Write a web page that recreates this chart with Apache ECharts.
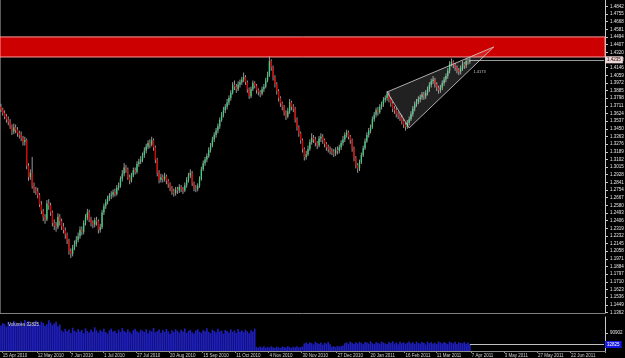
<!DOCTYPE html>
<html><head><meta charset="utf-8">
<script src="https://cdn.jsdelivr.net/npm/echarts@6/dist/echarts.min.js"></script>
<style>html,body{margin:0;padding:0;background:#000;}#c{width:625px;height:358px;}</style>
</head><body><div id="c"></div>
<script>
// EURUSD daily, 14 Apr 2010 .. 6 Apr 2011 : [open, close, low, high]
const candles = [
[1.3700,1.3670,1.3640,1.3735],[1.3670,1.3630,1.3600,1.3690],[1.3630,1.3590,1.3560,1.3660],[1.3590,1.3555,1.3520,1.3620],[1.3555,1.3530,1.3490,1.3590],[1.3530,1.3480,1.3450,1.3560],[1.3480,1.3420,1.3380,1.3500],[1.3420,1.3465,1.3390,1.3510],[1.3465,1.3440,1.3400,1.3500],[1.3440,1.3400,1.3360,1.3470],
[1.3400,1.3380,1.3340,1.3430],[1.3380,1.3350,1.3310,1.3420],[1.3350,1.3300,1.3260,1.3370],[1.3300,1.3320,1.3260,1.3360],[1.3320,1.3030,1.2990,1.3340],[1.3030,1.2900,1.2860,1.3060],[1.2900,1.2950,1.2870,1.2990],[1.2950,1.2800,1.2770,1.3130],[1.2800,1.2760,1.2720,1.2840],[1.2760,1.2740,1.2700,1.2790],
[1.2740,1.2700,1.2660,1.2780],[1.2700,1.2590,1.2560,1.2720],[1.2590,1.2520,1.2480,1.2630],[1.2520,1.2450,1.2400,1.2540],[1.2450,1.2420,1.2370,1.2480],[1.2420,1.2600,1.2400,1.2640],[1.2600,1.2580,1.2530,1.2650],[1.2580,1.2500,1.2460,1.2610],[1.2500,1.2380,1.2340,1.2520],[1.2380,1.2350,1.2300,1.2420],
[1.2350,1.2330,1.2280,1.2390],[1.2330,1.2450,1.2310,1.2490],[1.2450,1.2400,1.2350,1.2480],[1.2400,1.2340,1.2300,1.2430],[1.2340,1.2300,1.2260,1.2380],[1.2300,1.2250,1.2200,1.2330],[1.2250,1.2180,1.2140,1.2270],[1.2180,1.2060,1.2020,1.2200],[1.2060,1.2030,1.1981,1.2090],[1.2030,1.2100,1.2000,1.2130],
[1.2100,1.2140,1.2070,1.2180],[1.2140,1.2190,1.2110,1.2230],[1.2190,1.2230,1.2160,1.2270],[1.2230,1.2300,1.2200,1.2340],[1.2300,1.2280,1.2240,1.2340],[1.2280,1.2380,1.2250,1.2410],[1.2380,1.2440,1.2350,1.2480],[1.2440,1.2500,1.2410,1.2540],[1.2500,1.2420,1.2390,1.2530],[1.2420,1.2380,1.2340,1.2450],
[1.2380,1.2360,1.2320,1.2410],[1.2360,1.2410,1.2330,1.2440],[1.2410,1.2400,1.2350,1.2450],[1.2400,1.2300,1.2260,1.2420],[1.2300,1.2330,1.2270,1.2370],[1.2330,1.2500,1.2310,1.2530],[1.2500,1.2570,1.2470,1.2600],[1.2570,1.2620,1.2540,1.2650],[1.2620,1.2660,1.2590,1.2690],[1.2660,1.2690,1.2630,1.2720],
[1.2690,1.2700,1.2650,1.2740],[1.2700,1.2730,1.2670,1.2760],[1.2730,1.2710,1.2680,1.2770],[1.2710,1.2780,1.2690,1.2810],[1.2780,1.2800,1.2750,1.2840],[1.2800,1.2880,1.2780,1.2910],[1.2880,1.2940,1.2850,1.2980],[1.2940,1.3010,1.2910,1.3060],[1.3010,1.2990,1.2950,1.3040],[1.2990,1.2900,1.2870,1.3010],
[1.2900,1.2860,1.2820,1.2930],[1.2860,1.2920,1.2840,1.2950],[1.2920,1.2980,1.2900,1.3010],[1.2980,1.2960,1.2930,1.3010],[1.2960,1.3050,1.2940,1.3080],[1.3050,1.3080,1.3020,1.3110],[1.3080,1.3100,1.3050,1.3140],[1.3100,1.3150,1.3070,1.3180],[1.3150,1.3200,1.3120,1.3240],[1.3200,1.3250,1.3170,1.3280],
[1.3250,1.3290,1.3220,1.3320],[1.3290,1.3270,1.3230,1.3330],[1.3270,1.3320,1.3250,1.3360],[1.3320,1.3240,1.3200,1.3340],[1.3240,1.3100,1.3060,1.3260],[1.3100,1.2950,1.2910,1.3120],[1.2950,1.2870,1.2830,1.2980],[1.2870,1.2900,1.2840,1.2940],[1.2900,1.2880,1.2840,1.2930],[1.2880,1.2910,1.2850,1.2950],
[1.2910,1.2860,1.2820,1.2930],[1.2860,1.2820,1.2780,1.2880],[1.2820,1.2780,1.2740,1.2840],[1.2780,1.2740,1.2700,1.2800],[1.2740,1.2720,1.2680,1.2770],[1.2720,1.2760,1.2690,1.2790],[1.2760,1.2750,1.2710,1.2790],[1.2750,1.2790,1.2720,1.2820],[1.2790,1.2770,1.2730,1.2810],[1.2770,1.2750,1.2710,1.2790],
[1.2750,1.2810,1.2730,1.2840],[1.2810,1.2870,1.2780,1.2900],[1.2870,1.2920,1.2840,1.2950],[1.2920,1.2950,1.2890,1.2990],[1.2950,1.2830,1.2800,1.2970],[1.2830,1.2780,1.2740,1.2850],[1.2780,1.2770,1.2730,1.2810],[1.2770,1.2800,1.2740,1.2830],[1.2800,1.2880,1.2780,1.2910],[1.2880,1.2990,1.2860,1.3020],
[1.2990,1.3060,1.2970,1.3090],[1.3060,1.3100,1.3030,1.3130],[1.3100,1.3140,1.3070,1.3170],[1.3140,1.3210,1.3120,1.3240],[1.3210,1.3260,1.3180,1.3290],[1.3260,1.3330,1.3240,1.3360],[1.3330,1.3380,1.3300,1.3410],[1.3380,1.3430,1.3350,1.3460],[1.3430,1.3480,1.3400,1.3510],[1.3480,1.3550,1.3450,1.3580],
[1.3550,1.3610,1.3530,1.3640],[1.3610,1.3660,1.3580,1.3700],[1.3660,1.3700,1.3630,1.3730],[1.3700,1.3750,1.3670,1.3790],[1.3750,1.3800,1.3720,1.3830],[1.3800,1.3860,1.3770,1.3890],[1.3860,1.3950,1.3840,1.3980],[1.3950,1.3930,1.3890,1.4000],[1.3930,1.3900,1.3860,1.3960],[1.3900,1.3950,1.3880,1.3990],
[1.3950,1.3980,1.3920,1.4010],[1.3980,1.4010,1.3950,1.4040],[1.4010,1.4040,1.3980,1.4090],[1.4040,1.3980,1.3950,1.4060],[1.3980,1.3900,1.3860,1.4000],[1.3900,1.3820,1.3790,1.3920],[1.3820,1.3900,1.3800,1.3930],[1.3900,1.3970,1.3880,1.4000],[1.3970,1.3940,1.3910,1.3990],[1.3940,1.3890,1.3850,1.3960],
[1.3890,1.3870,1.3830,1.3910],[1.3870,1.3850,1.3810,1.3890],[1.3850,1.3900,1.3830,1.3930],[1.3900,1.3930,1.3870,1.3960],[1.3930,1.4000,1.3910,1.4030],[1.4000,1.4060,1.3980,1.4100],[1.4060,1.4220,1.4040,1.4275],[1.4220,1.4150,1.4110,1.4240],[1.4150,1.4040,1.4000,1.4170],[1.4040,1.3960,1.3920,1.4060],
[1.3960,1.3880,1.3840,1.3980],[1.3880,1.3800,1.3760,1.3900],[1.3800,1.3740,1.3700,1.3820],[1.3740,1.3700,1.3660,1.3760],[1.3700,1.3640,1.3600,1.3720],[1.3640,1.3590,1.3550,1.3660],[1.3590,1.3650,1.3570,1.3690],[1.3650,1.3750,1.3620,1.3790],[1.3750,1.3700,1.3660,1.3770],[1.3700,1.3680,1.3640,1.3730],
[1.3680,1.3560,1.3520,1.3700],[1.3560,1.3470,1.3430,1.3580],[1.3470,1.3400,1.3360,1.3490],[1.3400,1.3320,1.3280,1.3420],[1.3320,1.3220,1.3180,1.3340],[1.3220,1.3130,1.3090,1.3240],[1.3130,1.3160,1.3100,1.3200],[1.3160,1.3220,1.3140,1.3260],[1.3220,1.3300,1.3200,1.3330],[1.3300,1.3350,1.3270,1.3400],
[1.3350,1.3330,1.3290,1.3380],[1.3330,1.3290,1.3250,1.3360],[1.3290,1.3260,1.3220,1.3310],[1.3260,1.3340,1.3240,1.3370],[1.3340,1.3360,1.3300,1.3400],[1.3360,1.3320,1.3280,1.3390],[1.3320,1.3280,1.3240,1.3340],[1.3280,1.3240,1.3200,1.3300],[1.3240,1.3220,1.3180,1.3270],[1.3220,1.3200,1.3160,1.3250],
[1.3200,1.3190,1.3150,1.3230],[1.3190,1.3170,1.3130,1.3220],[1.3170,1.3210,1.3140,1.3240],[1.3210,1.3200,1.3160,1.3250],[1.3200,1.3240,1.3170,1.3270],[1.3240,1.3290,1.3210,1.3320],[1.3290,1.3330,1.3260,1.3370],[1.3330,1.3380,1.3300,1.3410],[1.3380,1.3410,1.3350,1.3440],[1.3410,1.3360,1.3330,1.3430],
[1.3360,1.3320,1.3280,1.3380],[1.3320,1.3230,1.3190,1.3340],[1.3230,1.3120,1.3080,1.3250],[1.3120,1.3040,1.3000,1.3140],[1.3040,1.3000,1.2950,1.3060],[1.3000,1.3070,1.2970,1.3100],[1.3070,1.3150,1.3050,1.3180],[1.3150,1.3230,1.3130,1.3260],[1.3230,1.3310,1.3210,1.3340],[1.3310,1.3380,1.3290,1.3410],
[1.3380,1.3430,1.3350,1.3460],[1.3430,1.3470,1.3400,1.3500],[1.3470,1.3560,1.3450,1.3590],[1.3560,1.3610,1.3530,1.3640],[1.3610,1.3660,1.3580,1.3690],[1.3660,1.3640,1.3600,1.3700],[1.3640,1.3700,1.3620,1.3730],[1.3700,1.3730,1.3670,1.3760],[1.3730,1.3780,1.3700,1.3810],[1.3780,1.3800,1.3750,1.3830],
[1.3800,1.3850,1.3770,1.3880],[1.3850,1.3790,1.3750,1.3870],[1.3790,1.3740,1.3700,1.3810],[1.3740,1.3680,1.3640,1.3760],[1.3680,1.3660,1.3620,1.3710],[1.3660,1.3620,1.3580,1.3690],[1.3620,1.3600,1.3560,1.3650],[1.3600,1.3580,1.3540,1.3630],[1.3580,1.3540,1.3500,1.3610],[1.3540,1.3500,1.3460,1.3560],
[1.3500,1.3470,1.3430,1.3520],[1.3470,1.3520,1.3450,1.3550],[1.3520,1.3560,1.3490,1.3590],[1.3560,1.3620,1.3540,1.3650],[1.3620,1.3680,1.3590,1.3710],[1.3680,1.3730,1.3650,1.3760],[1.3730,1.3760,1.3700,1.3790],[1.3760,1.3790,1.3730,1.3820],[1.3790,1.3810,1.3750,1.3840],[1.3810,1.3840,1.3780,1.3870],
[1.3840,1.3820,1.3780,1.3870],[1.3820,1.3860,1.3790,1.3890],[1.3860,1.3900,1.3830,1.3930],[1.3900,1.3950,1.3870,1.3980],[1.3950,1.3990,1.3920,1.4020],[1.3990,1.4010,1.3960,1.4050],[1.4010,1.3960,1.3920,1.4030],[1.3960,1.3920,1.3880,1.3980],[1.3920,1.3890,1.3850,1.3940],[1.3890,1.3920,1.3860,1.3950],
[1.3920,1.3970,1.3890,1.4000],[1.3970,1.4010,1.3940,1.4040],[1.4010,1.4050,1.3980,1.4080],[1.4050,1.4110,1.4020,1.4140],[1.4110,1.4190,1.4080,1.4220],[1.4190,1.4210,1.4160,1.4250],[1.4210,1.4180,1.4140,1.4230],[1.4180,1.4150,1.4110,1.4200],[1.4150,1.4120,1.4080,1.4170],[1.4120,1.4100,1.4060,1.4140],
[1.4100,1.4140,1.4070,1.4170],[1.4140,1.4190,1.4110,1.4220],[1.4190,1.4170,1.4130,1.4210],[1.4170,1.4220,1.4140,1.4250],[1.4220,1.4210,1.4180,1.4250],[1.4210,1.4235,1.4190,1.4260]
];
const volumes = [
128400,141200,135600,122900,147300,139800,126500,152100,144700,131900,138200,149600,127300,156800,142500,151900,136700,129800,145300,153600,139100,132400,148200,141700,126900,135200,155300,143800,130600,138900,147700,124800,133500,
104200,96800,112300,99700,108900,91200,117400,102600,95300,110800,
98400,105700,89600,114200,101300,93800,108100,97500,119600,103900,
92400,106300,99100,111800,95700,87900,104500,113100,98200,102700,
90600,107800,96400,115300,100900,94100,109400,97800,88300,105200,
112700,99600,93200,107100,101800,95900,110300,89400,103600,98700,
116200,94600,100200,108600,92700,105900,97100,111400,99300,86800,
104800,96200,109700,102100,93500,107400,98900,113800,91600,101500,
106700,95100,88700,103200,110100,97400,92100,105500,99800,114600,
96700,90300,108300,101100,94800,112500,98100,103400,87400,106100,
100600,93900,109100,96900,104100,91900,111100,97700,102900,95500,
107600,99400,89900,105100,98600,113300,
19800,16400,22700,18300,24100,15700,20900,17600,23400,19100,16900,21800,18700,15200,22300,20400,17300,24600,19500,16100,21200,18900,23700,17900,20600,22900,
38200,42600,35900,44800,39700,33400,46200,40100,36800,43500,31900,41200,37600,45300,34700,
21800,24300,19600,26100,22700,25400,28300,
39400,44100,36200,47600,41800,35100,43900,38600,46800,40700,
33800,45100,42300,37200,48900,39900,34600,44600,41100,36900,
47200,43200,38100,35600,45700,40400,49300,37900,42900,34200,
46400,39100,44300,36500,41500,48100,38800,43700,35300,47900,
40900,37300,45900,42100,33100,46900,39600,44900,38300,41900,
36100,48500,42700,37700,45500,40200,34900,47300,43100,38900,
46100,35800,44200,41300,39300,45800,36600,43300,
32825
];
const slotCount = 329; // daily slots incl. empty future area
const priceTicks = [1.1362,1.1449,1.1536,1.1623,1.1710,1.1797,1.1884,1.1971,1.2058,1.2145,1.2232,1.2319,1.2406,1.2493,1.2580,1.2667,1.2754,1.2841,1.2928,1.3015,1.3102,1.3189,1.3276,1.3363,1.3450,1.3537,1.3624,1.3711,1.3798,1.3885,1.3972,1.4059,1.4146,1.4233,1.4320,1.4407,1.4494,1.4581,1.4668,1.4755,1.4842];
const volumeTicks = [90902];
const xTickIdx = [1,20,38,56,74,92,110,128,146,164,183,201,220,237,256,274,292,310];
const xTickText = ['15 Apr 2010','12 May 2010','7 Jun 2010','1 Jul 2010','27 Jul 2010','20 Aug 2010','15 Sep 2010','11 Oct 2010','4 Nov 2010','30 Nov 2010','27 Dec 2010','20 Jan 2011','16 Feb 2011','11 Mar 2011','7 Apr 2011','3 May 2011','27 May 2011','22 Jun 2011'];
const resistanceZone = [1.4495, 1.4267];
const lastPrice = 1.4235;
const wedge = [[210, 1.3869], [222, 1.3460], [268, 1.4381]];
const wedgeLabel = {at: [257, 1.4100], text: '1.4173'};
const priceMin = 1.1356, priceMax = 1.4915;
const volMax = 171704;

const categories = [];
for (let i = 0; i < slotCount; i++) categories.push(String(i));
const lastIdx = candles.length - 1;
const FONT = 'Liberation Sans, Arial, sans-serif';

const chart = echarts.init(document.getElementById('c'), null, {renderer: 'canvas'});
const tickShow = (idx) => xTickIdx.indexOf(idx) >= 0;

chart.setOption({
  backgroundColor: '#000000',
  animation: false,
  title: {text: 'Volumes ' + volumes[lastIdx], left: 3, top: 317,
    textStyle: {color: '#d8d8d8', fontSize: 4.5, fontWeight: 'normal', fontFamily: FONT}},
  grid: [
    {left: 0, right: 20, top: 0, height: 313, outerBoundsMode: 'none'},
    {left: 0, right: 20, top: 317, height: 34, outerBoundsMode: 'none'}
  ],
  xAxis: [
    {type: 'category', gridIndex: 0, data: categories, boundaryGap: true,
     axisLine: {show: true, lineStyle: {color: '#808080', width: 1}},
     axisTick: {show: false}, axisLabel: {show: false}, splitLine: {show: false}},
    {type: 'category', gridIndex: 1, data: categories, boundaryGap: true,
     axisLine: {show: true, lineStyle: {color: '#909090', width: 1}},
     axisTick: {show: true, interval: tickShow, length: 2, lineStyle: {color: '#909090'}},
     axisLabel: {show: true, interval: tickShow, color: '#d0d0d0', fontSize: 4.5, fontFamily: FONT,
       margin: 2, align: 'left',
       formatter: (v, idx) => { const k = xTickIdx.indexOf(Number(v)); return k >= 0 ? xTickText[k] : ''; }},
     splitLine: {show: false}}
  ],
  yAxis: [
    {type: 'value', gridIndex: 0, position: 'right', min: priceMin, max: priceMax,
     axisLine: {show: true, lineStyle: {color: '#c8c8c8', width: 1}},
     axisTick: {show: true, length: 3, customValues: priceTicks, lineStyle: {color: '#c8c8c8'}},
     axisLabel: {show: true, customValues: priceTicks, color: '#e6e6e6', fontSize: 4.5, fontFamily: FONT, margin: 5,
       formatter: v => Number(v).toFixed(4)},
     splitLine: {show: false}},
    {type: 'value', gridIndex: 0, position: 'left', min: priceMin, max: priceMax,
     axisLine: {show: true, lineStyle: {color: '#5a5a5a', width: 1}},
     axisTick: {show: false}, axisLabel: {show: false}, splitLine: {show: false}},
    {type: 'value', gridIndex: 1, position: 'right', min: 0, max: volMax,
     axisLine: {show: true, lineStyle: {color: '#c8c8c8', width: 1}},
     axisTick: {show: true, length: 3, customValues: volumeTicks, lineStyle: {color: '#c8c8c8'}},
     axisLabel: {show: true, customValues: volumeTicks, color: '#e6e6e6', fontSize: 4.5, fontFamily: FONT, margin: 5,
       formatter: v => String(Math.round(v))},
     splitLine: {show: false}}
  ],
  series: [
    {
      type: 'custom', name: 'wedge', xAxisIndex: 0, yAxisIndex: 0, z: 5, silent: true,
      data: [[wedge[0][0], wedge[0][1]]], encode: {x: 0, y: 1},
      renderItem: (params, api) => {
        const pts = wedge.map(p => api.coord(p));
        const lp = api.coord(wedgeLabel.at);
        return {type: 'group', children: [
          {type: 'polygon', shape: {points: pts},
           style: {fill: 'rgba(255,255,255,0.13)', stroke: '#d6d6d6', lineWidth: 0.8}},
          {type: 'text', x: lp[0], y: lp[1],
           style: {text: wedgeLabel.text, fill: '#c0c0c0', font: '4px ' + FONT, verticalAlign: 'middle'}}
        ]};
      }
    },
    {
      type: 'custom', name: 'EURUSD', xAxisIndex: 0, yAxisIndex: 0, z: 3, clip: true,
      data: candles.map((r, i) => [i, r[0], r[1], r[2], r[3]]),
      encode: {x: 0, y: [1, 2, 3, 4]},
      renderItem: (params, api) => {
        const i = api.value(0), o = api.value(1), c = api.value(2), l = api.value(3), h = api.value(4);
        const pH = api.coord([i, h]), pL = api.coord([i, l]);
        const pO = api.coord([i, o]), pC = api.coord([i, c]);
        const x = pH[0];
        const up = c >= o;
        const top = Math.min(pO[1], pC[1]);
        const bh = Math.max(Math.abs(pO[1] - pC[1]), 0.8);
        return {type: 'group', children: [
          {type: 'line', shape: {x1: x, y1: pH[1], x2: x, y2: pL[1]}, style: {stroke: '#a9a9a9', lineWidth: 0.9}},
          {type: 'rect', shape: {x: x - 0.65, y: top, width: 1.3, height: bh}, style: {fill: up ? '#3fcf7f' : '#e00000'}}
        ]};
      },
      markArea: {silent: true, z: 2,
        itemStyle: {color: '#cc0000', borderColor: '#ff9a9a', borderWidth: 1},
        data: [[{yAxis: resistanceZone[0]}, {yAxis: resistanceZone[1]}]]},
      markLine: {silent: true, symbol: ['none', 'none'],
        lineStyle: {color: '#9a9a9a', width: 1, type: 'solid'},
        label: {show: true, position: 'end', distance: 1, formatter: lastPrice.toFixed(4),
          backgroundColor: '#ead8d8', color: '#300000', fontSize: 4.5, fontFamily: FONT, padding: [1, 2]},
        data: [[{coord: [lastIdx, lastPrice]}, {coord: [slotCount - 1, lastPrice]}]]}
    },
    {
      type: 'bar', name: 'Volumes', xAxisIndex: 1, yAxisIndex: 2,
      data: volumes, barCategoryGap: '12%',
      itemStyle: {color: '#1f1fc0'},
      markLine: {silent: true, symbol: ['none', 'none'],
        lineStyle: {color: '#c0c0c0', width: 1, type: 'solid'},
        label: {show: true, position: 'end', distance: 1, formatter: String(volumes[lastIdx]),
          backgroundColor: '#1515e0', color: '#ffffff', fontSize: 4.5, fontFamily: FONT, padding: [1, 2]},
        data: [[{coord: [lastIdx, volumes[lastIdx]]}, {coord: [slotCount - 1, volumes[lastIdx]]}]]}
    }
  ]
});
</script></body></html>
